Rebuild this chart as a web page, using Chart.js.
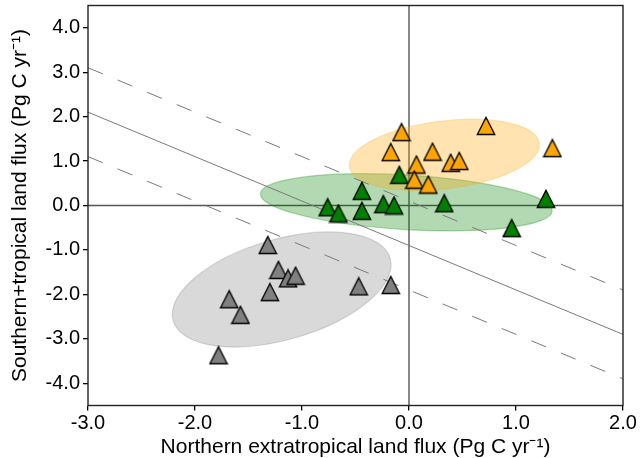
<!DOCTYPE html>
<html><head><meta charset="utf-8">
<script src="https://cdn.jsdelivr.net/npm/chart.js@4.4.1/dist/chart.umd.min.js"></script>
<style>html,body{margin:0;padding:0;background:#fff}</style>
</head><body>
<canvas id="c" width="641" height="458"></canvas>
<script>
// ---- data ----
const xTicks = [-3, -2, -1, 0, 1, 2];
const yTicks = [-4, -3, -2, -1, 0, 1, 2, 3, 4];
const xRange = [-3, 2];
const yRange = [-4.5, 4.5];

const orangeX = [-0.07, 0.72, 1.34, -0.17, 0.22, 0.07, 0.39, 0.47, 0.05, 0.18];
const orangeY = [1.65, 1.79, 1.29, 1.20, 1.21, 0.92, 0.96, 1.00, 0.58, 0.47];
const greenX = [-0.09, -0.44, -0.76, -0.66, -0.44, -0.24, -0.14, 0.33, 1.28, 0.96];
const greenY = [0.69, 0.33, -0.04, -0.18, -0.12, 0.03, 0.00, 0.05, 0.15, -0.51];
const grayX = [-1.32, -1.22, -1.13, -1.06, -1.30, -1.68, -1.575, -1.78, -0.47, -0.17];
const grayY = [-0.89, -1.45, -1.64, -1.58, -1.95, -2.11, -2.46, -3.37, -1.82, -1.79];

const refLineX = [-3, 2];
const refLineMid = [2.1, -2.9];
const refLineUpper = [3.1, -1.9];
const refLineLower = [1.1, -3.9];

// ellipses: centre and two conjugate semi-axes, in data units
const grayEllipseCenter = [-1.19, -1.89];
const grayEllipseU = [1.014, 0.702];
const grayEllipseV = [0.129, -1.086];
const greenEllipseCenter = [-0.025, 0.072];
const greenEllipseU = [1.363, -0.194];
const greenEllipseV = [-0.015, -0.613];
const orangeEllipseCenter = [0.33, 1.138];
const orangeEllipseU = [0.886, 0.260];
const orangeEllipseV = [0.038, -0.758];

// ---- helpers ----
const FONT = "'Liberation Sans', Arial, sans-serif";
function pts(xs, ys) { return xs.map((x, i) => ({ x: x, y: ys[i] })); }
function triangleCanvas(fill) {
  const s = 20, c = document.createElement('canvas');
  c.width = s; c.height = s;
  const g = c.getContext('2d');
  g.beginPath();
  g.moveTo(10, 1.4); g.lineTo(1.3, 18.5); g.lineTo(18.7, 18.5); g.closePath();
  g.fillStyle = fill; g.fill();
  g.lineWidth = 1.3; g.strokeStyle = '#000'; g.lineJoin = 'miter'; g.stroke();
  return c;
}

const ellipses = [
  { c: grayEllipseCenter, u: grayEllipseU, v: grayEllipseV, fill: 'rgba(128,128,128,0.3)', stroke: 'rgba(128,128,128,0.3)' },
  { c: greenEllipseCenter, u: greenEllipseU, v: greenEllipseV, fill: 'rgba(0,128,0,0.3)', stroke: 'rgba(0,128,0,0.3)' },
  { c: orangeEllipseCenter, u: orangeEllipseU, v: orangeEllipseV, fill: 'rgba(255,165,0,0.3)', stroke: 'rgba(255,165,0,0.3)' }
];

const framePlugin = {
  id: 'frame',
  beforeDatasetsDraw(chart) {
    const { ctx, chartArea: a, scales: { x: xs, y: ys } } = chart;
    ctx.save();
    ctx.beginPath(); ctx.rect(a.left, a.top, a.right - a.left, a.bottom - a.top); ctx.clip();
    ctx.strokeStyle = '#555'; ctx.lineWidth = 1.4;
    const x0 = xs.getPixelForValue(0), y0 = ys.getPixelForValue(0);
    ctx.beginPath(); ctx.moveTo(x0, a.top); ctx.lineTo(x0, a.bottom); ctx.stroke();
    ctx.beginPath(); ctx.moveTo(a.left, y0); ctx.lineTo(a.right, y0); ctx.stroke();
    ellipses.forEach(e => {
      const cx = xs.getPixelForValue(e.c[0]), cy = ys.getPixelForValue(e.c[1]);
      const ux = xs.getPixelForValue(e.c[0] + e.u[0]) - cx, uy = ys.getPixelForValue(e.c[1] + e.u[1]) - cy;
      const vx = xs.getPixelForValue(e.c[0] + e.v[0]) - cx, vy = ys.getPixelForValue(e.c[1] + e.v[1]) - cy;
      ctx.save();
      ctx.beginPath();
      ctx.transform(ux, uy, vx, vy, cx, cy);
      ctx.arc(0, 0, 1, 0, Math.PI * 2);
      ctx.restore();
      ctx.fillStyle = e.fill; ctx.fill();
      ctx.strokeStyle = e.stroke; ctx.lineWidth = 1.2; ctx.stroke();
    });
    ctx.restore();
  },
  afterDraw(chart) {
    const { ctx, chartArea: a } = chart;
    ctx.save();
    ctx.strokeStyle = '#222'; ctx.lineWidth = 1.4;
    ctx.strokeRect(a.left, a.top, a.right - a.left, a.bottom - a.top);
    ctx.restore();
  }
};

const refStyle = { showLine: true, pointRadius: 0, borderColor: '#7a7a7a', borderWidth: 1, fill: false };

new Chart(document.getElementById('c'), {
  type: 'scatter',
  data: {
    datasets: [
      { label: 'Orange', data: pts(orangeX, orangeY), pointStyle: triangleCanvas('#FFA500'), pointRadius: 10, order: 1 },
      { label: 'Green', data: pts(greenX, greenY), pointStyle: triangleCanvas('#008000'), pointRadius: 10, order: 2 },
      { label: 'Gray', data: pts(grayX, grayY), pointStyle: triangleCanvas('#808080'), pointRadius: 10, order: 3 },
      Object.assign({ label: 'Fit', data: pts(refLineX, refLineMid), order: 4 }, refStyle),
      Object.assign({ label: 'Upper', data: pts(refLineX, refLineUpper), borderDash: [16, 16], order: 5 }, refStyle),
      Object.assign({ label: 'Lower', data: pts(refLineX, refLineLower), borderDash: [16, 16], order: 6 }, refStyle)
    ]
  },
  options: {
    responsive: false, animation: false, events: [],
    layout: { autoPadding: false, padding: { top: 5.5, right: 18, bottom: 0, left: 0 } },
    plugins: { legend: { display: false }, tooltip: { enabled: false } },
    scales: {
      x: {
        type: 'linear', min: xRange[0], max: xRange[1],
        afterBuildTicks: s => { s.ticks = xTicks.map(v => ({ value: v })); },
        afterFit: s => { s.height = 52.5; s.paddingLeft = 0; s.paddingRight = 0; },
        ticks: { callback: v => Number(v).toFixed(1), font: { family: FONT, size: 20 }, color: '#000', padding: 1, maxRotation: 0, autoSkip: false },
        grid: { drawOnChartArea: false, drawTicks: true, tickLength: 5, color: '#000', lineWidth: 1.3 },
        border: { display: false },
        title: { display: true, text: 'Northern extratropical land flux (Pg C yr⁻¹)', font: { family: FONT, size: 21, lineHeight: 1 }, color: '#000', padding: { top: 0, bottom: 0 } }
      },
      y: {
        type: 'linear', min: yRange[0], max: yRange[1],
        afterBuildTicks: s => { s.ticks = yTicks.map(v => ({ value: v })); },
        afterFit: s => { s.width = 88; s.paddingTop = 0; s.paddingBottom = 0; },
        ticks: { callback: v => Number(v).toFixed(1), font: { family: FONT, size: 20 }, color: '#000', padding: 3, autoSkip: false },
        grid: { drawOnChartArea: false, drawTicks: true, tickLength: 5, color: '#000', lineWidth: 1.3 },
        border: { display: false },
        title: { display: true, text: 'Southern+tropical land flux (Pg C yr⁻¹)', font: { family: FONT, size: 21, lineHeight: 1 }, color: '#000', padding: { top: 10, bottom: 0 } }
      }
    }
  },
  plugins: [framePlugin]
});
</script>
</body></html>
